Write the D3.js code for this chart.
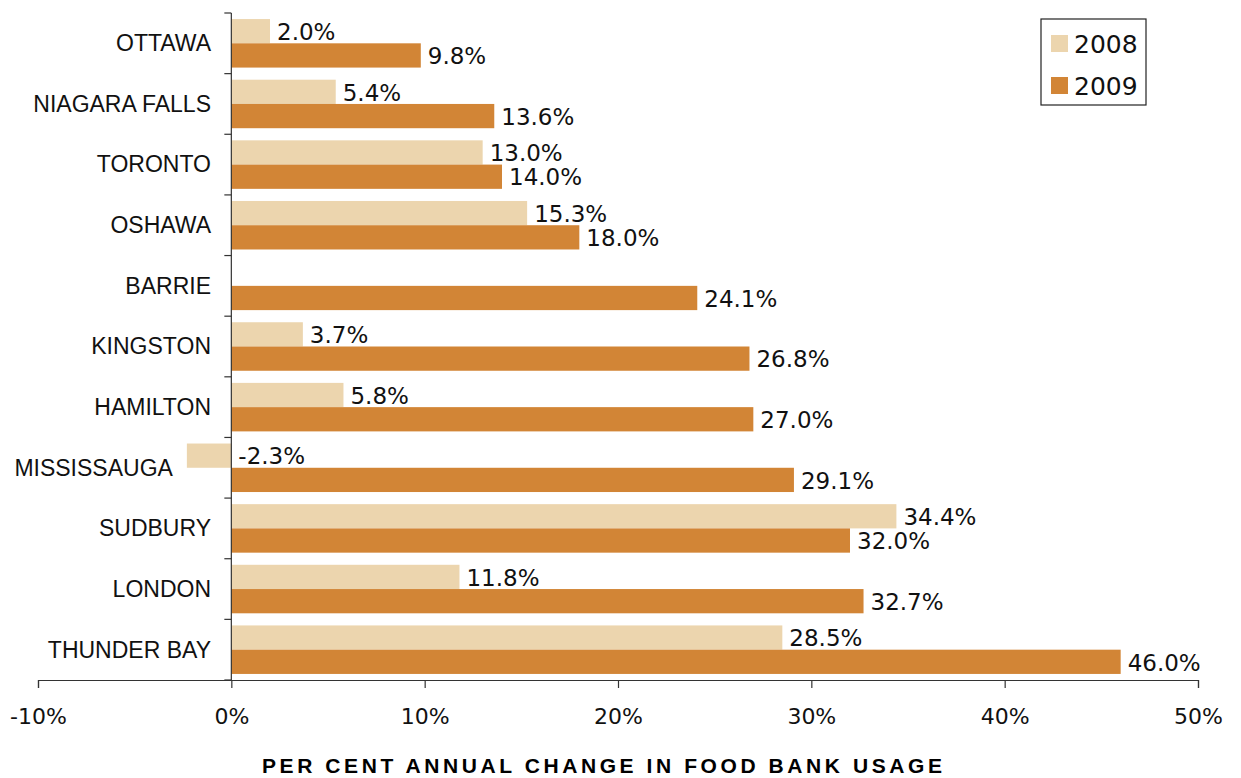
<!DOCTYPE html>
<html>
<head>
<meta charset="utf-8">
<script src="https://cdn.jsdelivr.net/npm/d3@7"></script>
<style>
  html, body { margin: 0; padding: 0; background: #fff; }
  svg { display: block; }
</style>
</head>
<body>
<svg id="chart" width="1241" height="778"></svg>
<script>
// Food bank usage, annual per cent change by city
const cities = ["OTTAWA", "NIAGARA FALLS", "TORONTO", "OSHAWA", "BARRIE", "KINGSTON",
                "HAMILTON", "MISSISSAUGA", "SUDBURY", "LONDON", "THUNDER BAY"];
const values2008 = [2.0, 5.4, 13.0, 15.3, null, 3.7, 5.8, -2.3, 34.4, 11.8, 28.5];
const values2009 = [9.8, 13.6, 14.0, 18.0, 24.1, 26.8, 27.0, 29.1, 32.0, 32.7, 46.0];
const seriesNames = ["2008", "2009"];
const xTicks = [-10, 0, 10, 20, 30, 40, 50];
const axisTitle = "PER CENT ANNUAL CHANGE IN FOOD BANK USAGE";

const colors = { "2008": "#ECD5AE", "2009": "#D28536" };

const svg = d3.select("#chart");
const plot = { left: 38, right: 1198, top: 13, bottom: 680 };

const x = d3.scaleLinear().domain([-10, 50]).range([plot.left, plot.right]);
const y = d3.scaleBand().domain(cities).range([plot.top, plot.bottom]).paddingInner(0).paddingOuter(0);
const barH = y.bandwidth() * 0.40;
const barOffset = y.bandwidth() * 0.10;

const rows = cities.map((c, i) => ({ city: c, v: [values2008[i], values2009[i]] }));

const g = svg.append("g");

// bars with value labels
rows.forEach(r => {
  r.v.forEach((val, s) => {
    if (val === null) return;
    const yy = y(r.city) + barOffset + s * barH;
    g.append("rect")
      .attr("x", x(Math.min(0, val)))
      .attr("y", yy)
      .attr("width", Math.abs(x(val) - x(0)))
      .attr("height", barH)
      .attr("fill", colors[seriesNames[s]]);
    g.append("text")
      .attr("x", x(Math.max(0, val)) + 7)
      .attr("y", yy + barH / 2)
      .attr("dy", "0.38em")
      .attr("font-family", "'DejaVu Sans', sans-serif")
      .attr("font-size", 23)
      .attr("fill", "#111")
      .text(val.toFixed(1) + "%");
  });
});

// y axis at zero, ticks between categories
const yAxisG = svg.append("g").attr("transform", `translate(${x(0)},0)`);
yAxisG.append("line")
  .attr("x1", 0).attr("x2", 0)
  .attr("y1", plot.top).attr("y2", plot.bottom)
  .attr("stroke", "#333").attr("stroke-width", 1.2);
const bounds = cities.map(c => y(c)).concat([plot.bottom]);
yAxisG.selectAll("line.tk").data(bounds).enter().append("line")
  .attr("class", "tk")
  .attr("x1", -7).attr("x2", 0)
  .attr("y1", d => d).attr("y2", d => d)
  .attr("stroke", "#333").attr("stroke-width", 1.2);

// category labels, pushed left of any negative bar
svg.append("g").selectAll("text").data(rows).enter().append("text")
  .attr("x", d => {
    const minV = Math.min(0, ...d.v.filter(v => v !== null));
    return minV < 0 ? x(minV) - 14 : 211;
  })
  .attr("y", d => y(d.city) + y.bandwidth() * 0.5)
  .attr("dy", "0.34em")
  .attr("text-anchor", "end")
  .attr("font-family", "'Liberation Sans', Arial, sans-serif")
  .attr("font-size", 23)
  .attr("fill", "#111")
  .text(d => d.city);

// x axis
const xAxis = d3.axisBottom(x).tickValues(xTicks).tickSize(8).tickPadding(20)
  .tickFormat(d => d + "%");
const xAxisG = svg.append("g").attr("transform", `translate(0,${plot.bottom})`).call(xAxis);
xAxisG.select(".domain").attr("stroke", "#333").attr("stroke-width", 1.2);
xAxisG.selectAll(".tick line").attr("stroke", "#333").attr("stroke-width", 1.2);
xAxisG.selectAll(".tick text")
  .attr("font-family", "'DejaVu Sans', sans-serif")
  .attr("font-size", 22)
  .attr("fill", "#111");

// axis title
svg.append("text")
  .attr("x", 602)
  .attr("y", 773)
  .attr("text-anchor", "middle")
  .attr("font-family", "'Liberation Sans Narrow', 'Liberation Sans', Arial, sans-serif")
  .attr("font-weight", "bold")
  .attr("font-size", 21)
  .attr("textLength", 680)
  .attr("lengthAdjust", "spacing")
  .attr("fill", "#000")
  .text(axisTitle);

// legend
const lg = svg.append("g").attr("transform", "translate(1041,19)");
lg.append("rect").attr("width", 105).attr("height", 86)
  .attr("fill", "#fff").attr("stroke", "#222").attr("stroke-width", 1.2);
seriesNames.forEach((s, i) => {
  lg.append("rect").attr("x", 10).attr("y", 16 + i * 42).attr("width", 17).attr("height", 17)
    .attr("fill", colors[s]);
  lg.append("text").attr("x", 33).attr("y", 24.5 + i * 42).attr("dy", "0.36em")
    .attr("font-family", "'DejaVu Sans', sans-serif")
    .attr("font-size", 25)
    .attr("fill", "#111")
    .text(s);
});
</script>
</body>
</html>
